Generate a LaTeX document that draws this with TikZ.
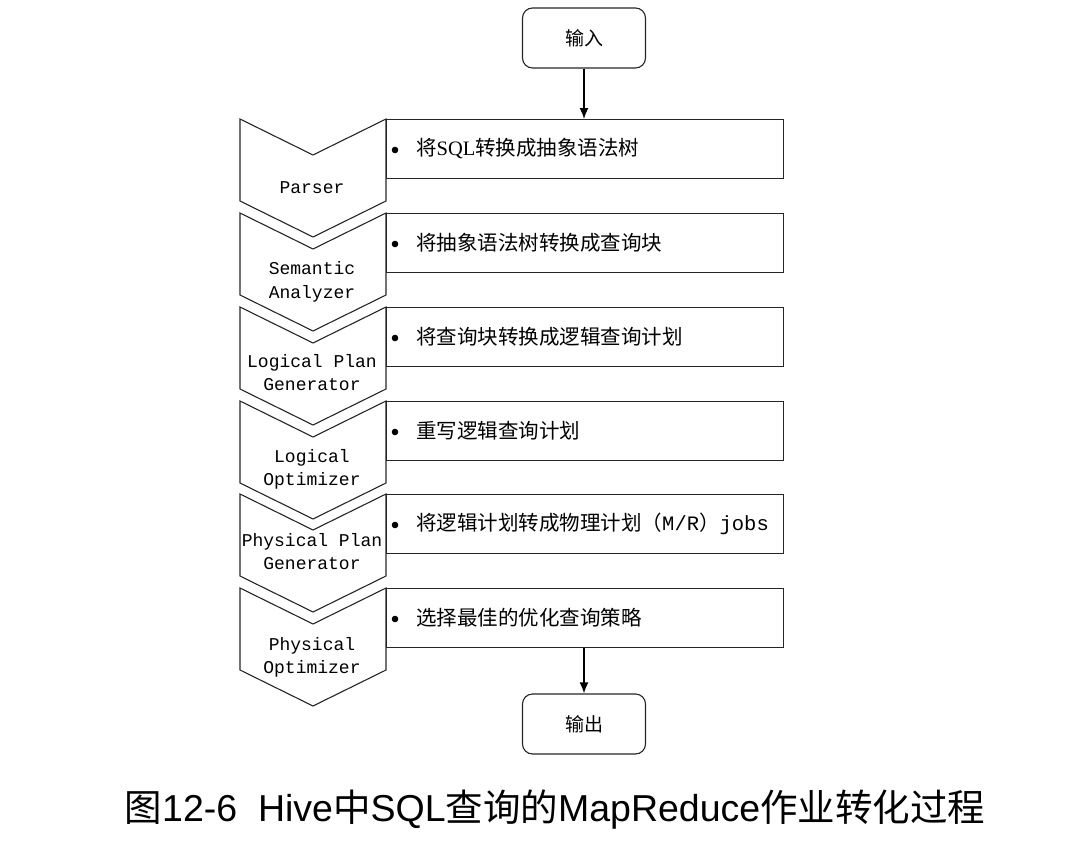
\documentclass[tikz,border=0pt]{standalone}
\usepackage{fontspec}
\usetikzlibrary{arrows.meta}
\setmainfont{Liberation Serif}
\newfontfamily\cjk{Noto Sans CJK SC}
\newfontfamily\mono{Liberation Mono}
\newfontfamily\capfont{Liberation Sans}
\begin{document}
\begin{tikzpicture}[x=1pt,y=-1pt,
  line/.style={draw=black!85, line width=1.1pt},
  term/.style={line, rounded corners=10pt, minimum width=123pt, minimum height=60pt, font=\cjk\fontsize{19}{22}\selectfont},
  stagetxt/.style={align=center, font=\mono\fontsize{18}{23.5}\selectfont, inner sep=0pt},
  desc/.style={anchor=west, inner sep=0pt, font=\cjk\fontsize{20.5}{22}\selectfont},
  arr/.style={draw=black, line width=1.6pt, -{Latex[length=11pt,width=9pt]}}
]
\useasboundingbox (0,0) rectangle (1085,849);

% input / output
\node[term] (in) at (584,38) {输入};
\node[term] (out) at (584,724) {输出};

% stages
\foreach \i/\y/\ty/\lab/\txt in {
  1/119/188/{Parser}/{将{\rmfamily SQL}转换成抽象语法树},
  2/213/282/{Semantic\\Analyzer}/{将抽象语法树转换成查询块},
  3/307/372.5/{Logical Plan\\Generator}/{将查询块转换成逻辑查询计划},
  4/401/469.5/{Logical\\Optimizer}/{重写逻辑查询计划},
  5/494/551.5/{Physical Plan\\Generator}/{将逻辑计划转成物理计划（{\mono M/R}）{\mono jobs}},
  6/588/657.5/{Physical\\Optimizer}/{选择最佳的优化查询策略}}{
  \draw[line, line join=miter] (240,\y) -- (313,\y+36) -- (386,\y) -- (386,\y+82) -- (313,\y+118) -- (240,\y+82) -- cycle;
  \node[stagetxt] (s\i) at (312,\ty) {\lab};
  \node[line, minimum width=397pt, minimum height=59pt, inner sep=0pt, anchor=north west] (r\i) at (386,\y) {};
  \fill (395,\y+31) circle (3.3pt);
  \node[desc] (d\i) at (416,\y+30) {\txt};
}

\draw[arr] (in.south) -- (r1.north -| in.south);
\draw[arr] (r6.south -| out.north) -- (out.north);

\node[font=\fontsize{37.5}{40}\selectfont, inner sep=0pt] (cap) at (555,810)
  {{\cjk 图}{\capfont 12-6\ \ Hive}{\cjk 中}{\capfont SQL}{\cjk 查询的}{\capfont MapReduce}{\cjk 作业转化过程}};
\end{tikzpicture}
\end{document}
